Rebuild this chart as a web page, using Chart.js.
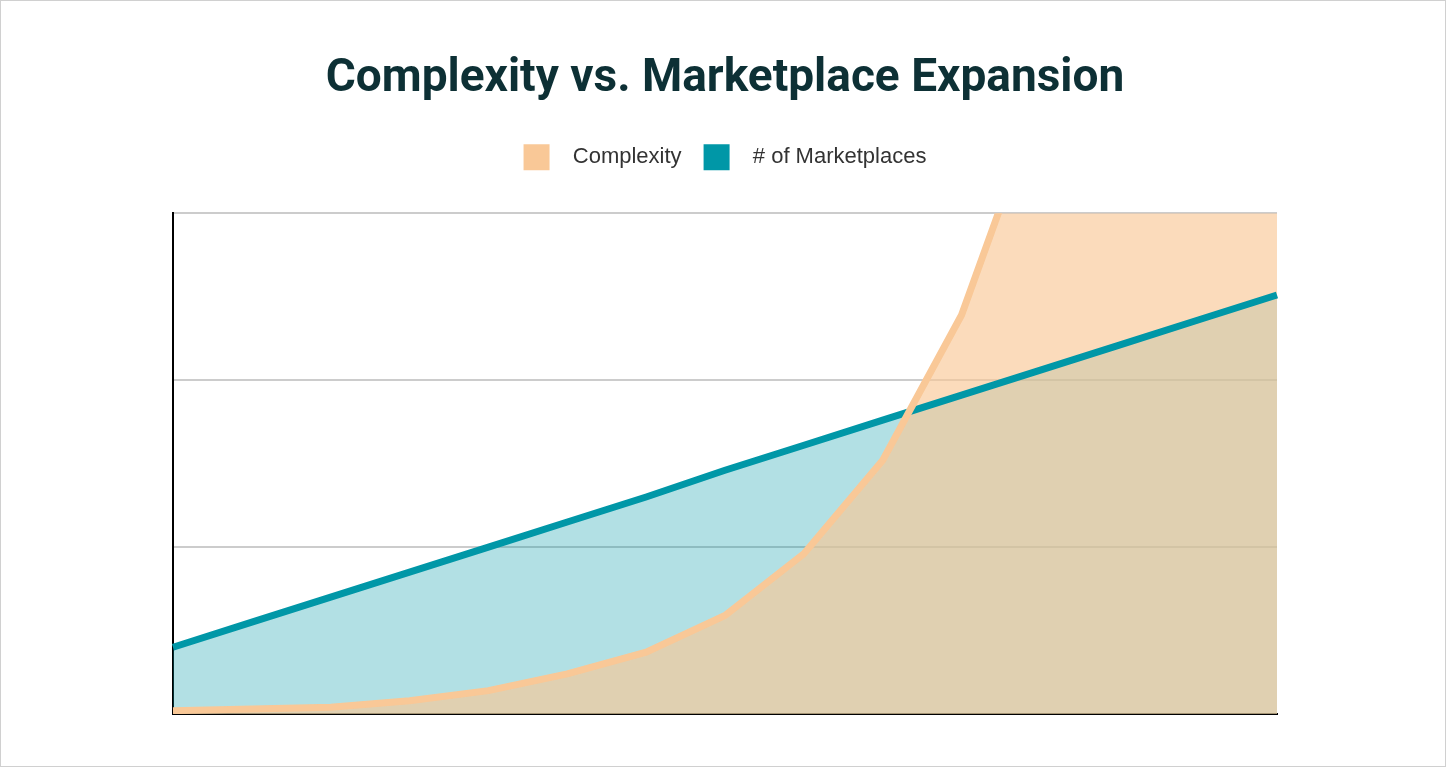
<!DOCTYPE html>
<html>
<head>
<meta charset="utf-8">
<script src="https://cdn.jsdelivr.net/npm/chart.js@4"></script>
<style>
  html, body { margin: 0; padding: 0; background: #fff; }
  #wrap { position: absolute; left: 0; top: 0; width: 1444px; height: 765px; border: 1px solid #d0d0d0; }
</style>
</head>
<body>
<div id="wrap"><canvas id="chart"></canvas></div>
<script>
// Values (y axis 0..3, no tick labels shown)
const categories = ["1", "2", "3", "4", "5", "6", "7", "8", "9", "10", "11", "12", "13", "14", "15"];
const complexity = [0.02, 0.03, 0.04, 0.08, 0.14, 0.24, 0.37, 0.59, 0.96, 1.52, 2.39, 3.7, 5, 6, 7];
const marketplaces = [0.40, 0.55, 0.70, 0.85, 1.00, 1.15, 1.30, 1.46, 1.61, 1.76, 1.91, 2.06, 2.21, 2.36, 2.51];

// extra space between legend and plot area
const legendSpacer = {
  id: "legendSpacer",
  beforeInit(chart) {
    const origFit = chart.legend.fit;
    chart.legend.fit = function () {
      origFit.bind(chart.legend)();
      this.height += 33;
    };
  },
};

new Chart(document.getElementById("chart"), {
  type: "line",
  data: {
    labels: categories,
    datasets: [
      {
        label: "Complexity",
        data: complexity,
        borderColor: "#f9c897",
        backgroundColor: "rgba(249, 200, 150, 0.65)",
        borderWidth: 7,
        fill: "origin",
        pointRadius: 0,
        tension: 0,
        order: 0,
      },
      {
        label: "# of Marketplaces",
        data: marketplaces,
        borderColor: "#0097a7",
        backgroundColor: "rgba(0, 151, 167, 0.3)",
        borderWidth: 7,
        fill: "origin",
        pointRadius: 0,
        tension: 0,
        order: 1,
      },
    ],
  },
  plugins: [legendSpacer],
  options: {
    responsive: true,
    maintainAspectRatio: false,
    animation: false,
    layout: { padding: { left: 172, right: 168, bottom: 44, top: 20 } },
    plugins: {
      filler: { drawTime: "beforeDatasetsDraw" },
      title: {
        display: true,
        text: "Complexity vs. Marketplace Expansion",
        color: "#0d3035",
        font: { family: "Roboto", size: 46, weight: "bold" },
        padding: { top: 31, bottom: 15 },
      },
      legend: {
        labels: {
          color: "#333",
          font: { family: "Liberation Sans", size: 22 },
          boxWidth: 26,
          boxHeight: 26,
          padding: 22,
          generateLabels(chart) {
            return chart.data.datasets.map((ds, i) => ({
              text: "  " + ds.label,
              fillStyle: ds.borderColor,
              strokeStyle: ds.borderColor,
              lineWidth: 0,
              fontColor: "#333",
              hidden: !chart.isDatasetVisible(i),
              datasetIndex: i,
            }));
          },
        },
      },
      tooltip: { enabled: false },
    },
    scales: {
      x: {
        offset: false,
        ticks: { display: false },
        grid: { display: false },
        border: { color: "#000", width: 2 },
      },
      y: {
        min: 0,
        max: 3,
        ticks: { display: false, stepSize: 1 },
        grid: { color: "#cccccc", lineWidth: 2, drawTicks: false },
        border: { color: "#000", width: 2 },
      },
    },
  },
});
</script>
</body>
</html>
